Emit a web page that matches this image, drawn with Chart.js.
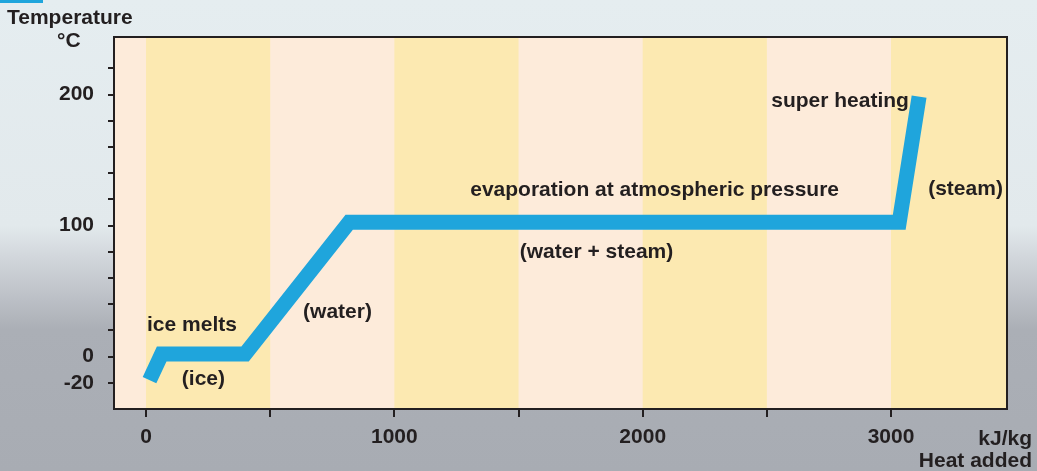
<!DOCTYPE html>
<html lang="en">
<head>
    <meta charset="UTF-8">
    <title>Heat added</title>
    <script src="https://cdn.jsdelivr.net/npm/chart.js"></script>
    <style>
        html, body {
            margin: 0;
            padding: 0;
        }
        body {
            width: 1037px;
            height: 471px;
            overflow: hidden;
            background: linear-gradient(to bottom, #e5edf0 0%, #e2e9ec 48%, #d3d8dd 54%, #c2c6cc 61%, #abafb6 70%, #a8acb3 100%);
            font-family: 'Liberation Sans', Arial, sans-serif;
            color: #231f20;
        }
        .wrap {
            position: relative;
            width: 1037px;
            height: 471px;
        }
        .tab {
            position: absolute;
            left: 0;
            top: 0;
            width: 43px;
            height: 3px;
            background: #1fa5dc;
        }
        .lbl {
            position: absolute;
            font-weight: bold;
            font-size: 21px;
            line-height: 24px;
            white-space: nowrap;
        }
        canvas {
            position: absolute;
            left: 0;
            top: 0;
        }
    </style>
</head>
<body>
<div class="wrap">
    <div class="tab"></div>
    <canvas id="chart" width="1037" height="471"></canvas>
    <div class="lbl" style="left:7px; top:5px;">Temperature</div>
    <div class="lbl" style="left:57px; top:28px;">°C</div>
    <div class="lbl" style="right:5px; top:426px;">kJ/kg</div>
    <div class="lbl" style="right:5px; top:448px;">Heat added</div>
</div>

<script>
    // heat added (kJ/kg) and temperature (°C) along the curve
    const heatAdded = [14, 63, 399, 818, 3033, 3113];
    const temperature = [-18, 2, 2, 102.5, 102.5, 198.5];

    // tick marks and the ones that get a label
    const xTicks = [0, 500, 1000, 1500, 2000, 2500, 3000];
    const xLabels = [0, 1000, 2000, 3000];
    const yTicks = [-20, 0, 20, 40, 60, 80, 100, 120, 140, 160, 180, 200, 220];
    const yLabels = [200, 100, 0, -20];

    // yellow background bands (kJ/kg ranges)
    const bandStarts = [0, 1000, 2000, 3000];
    const bandEnds = [500, 1500, 2500, 3500];

    // text inside the plot
    const noteTexts = ['ice melts', '(ice)', '(water)', 'evaporation at atmospheric pressure', '(water + steam)', 'super heating', '(steam)'];
    const noteX = [4, 231, 771, 2048, 1814, 3072, 3300];
    const noteY = [24, -17, 34, 127, 80, 195, 127.5];
    const noteAlign = ['left', 'center', 'center', 'center', 'center', 'right', 'center'];

    const ink = '#231f20';
    const font = { family: "'Liberation Sans', Arial, sans-serif", size: 21, weight: 'bold' };

    const backgroundBands = {
        id: 'backgroundBands',
        beforeDatasetsDraw(chart) {
            const { ctx, chartArea: a, scales: { x } } = chart;
            ctx.save();
            ctx.fillStyle = '#fdebda';
            ctx.fillRect(a.left, a.top, a.right - a.left, a.bottom - a.top);
            ctx.fillStyle = '#fce9b1';
            bandStarts.forEach((s, i) => {
                const l = Math.max(a.left, x.getPixelForValue(s));
                const r = Math.min(a.right, x.getPixelForValue(bandEnds[i]));
                ctx.fillRect(l, a.top, r - l, a.bottom - a.top);
            });
            ctx.restore();
        }
    };

    const frameAndNotes = {
        id: 'frameAndNotes',
        afterDatasetsDraw(chart) {
            const { ctx, chartArea: a, scales: { x, y } } = chart;
            ctx.save();
            ctx.strokeStyle = ink;
            ctx.lineWidth = 2;
            ctx.strokeRect(a.left, a.top, a.right - a.left, a.bottom - a.top);
            ctx.fillStyle = ink;
            ctx.font = 'bold 21px "Liberation Sans", Arial, sans-serif';
            ctx.textBaseline = 'middle';
            noteTexts.forEach((t, i) => {
                ctx.textAlign = noteAlign[i];
                ctx.fillText(t, x.getPixelForValue(noteX[i]), y.getPixelForValue(noteY[i]));
            });
            ctx.restore();
        }
    };

    new Chart(document.getElementById('chart'), {
        type: 'scatter',
        data: {
            datasets: [{
                data: heatAdded.map((h, i) => ({ x: h, y: temperature[i] })),
                showLine: true,
                borderColor: '#1fa5dc',
                borderWidth: 15,
                borderJoinStyle: 'miter',
                borderCapStyle: 'butt',
                pointRadius: 0,
                tension: 0
            }]
        },
        options: {
            responsive: false,
            animation: false,
            layout: { padding: { top: 37, right: 30, left: 0, bottom: 0 } },
            plugins: {
                legend: { display: false },
                tooltip: { enabled: false }
            },
            scales: {
                x: {
                    type: 'linear',
                    min: -129,
                    max: 3467,
                    afterFit(s) { s.height = 62; },
                    afterBuildTicks(s) { s.ticks = xTicks.map(v => ({ value: v })); },
                    grid: { drawOnChartArea: false, tickLength: 8, color: ink, lineWidth: 2 },
                    border: { color: ink, width: 2 },
                    ticks: {
                        autoSkip: false,
                        maxRotation: 0,
                        color: ink,
                        font: font,
                        padding: 8,
                        callback: v => xLabels.includes(v) ? String(v) : ''
                    }
                },
                y: {
                    type: 'linear',
                    min: -40,
                    max: 244,
                    afterFit(s) { s.width = 114; },
                    afterBuildTicks(s) { s.ticks = yTicks.map(v => ({ value: v })); },
                    grid: { drawOnChartArea: false, tickLength: 6, color: ink, lineWidth: 2 },
                    border: { color: ink, width: 2 },
                    ticks: {
                        autoSkip: false,
                        color: ink,
                        font: font,
                        padding: 14,
                        callback: v => yLabels.includes(v) ? String(v) : ''
                    }
                }
            }
        },
        plugins: [backgroundBands, frameAndNotes]
    });
</script>
</body>
</html>
